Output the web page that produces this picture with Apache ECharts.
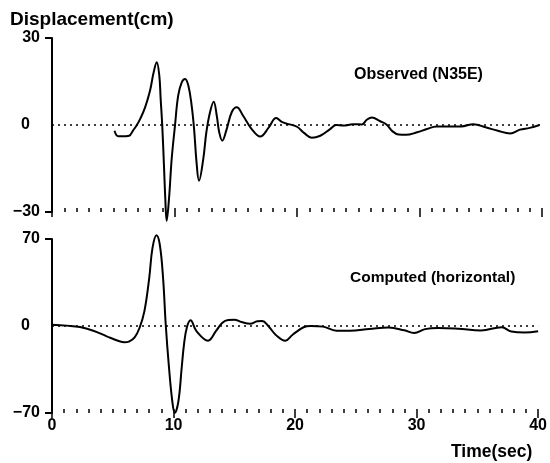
<!DOCTYPE html>
<html>
<head>
<meta charset="utf-8">
<script src="https://cdn.jsdelivr.net/npm/echarts@6/dist/echarts.min.js"></script>
<style>
  html, body { margin: 0; padding: 0; background: #fff; }
  #chart { width: 550px; height: 463px; }
</style>
</head>
<body>
<div id="chart"></div>
<script>
// observed record (N35E), [time sec, displacement cm]
var observed = [
  [5.1, -2.0], [5.4, -3.9], [5.7, -3.9], [6.3, -3.7], [6.6, -2.0], [6.9, -0.2],
  [7.2, 2.1], [7.6, 6.1], [8.0, 11.8], [8.3, 18.2], [8.55, 21.6], [8.76, 17],
  [8.87, 9], [9.0, -0.2], [9.14, -14], [9.25, -25.5], [9.36, -33], [9.55, -25.5],
  [9.77, -11.7], [10.04, -0.2], [10.3, 10.1], [10.59, 14.7], [10.86, 15.9], [11.13, 13.6],
  [11.4, 6.7], [11.6, -1.4], [11.8, -12.9], [12.0, -19.2], [12.35, -11.7], [12.6, -2.5],
  [12.9, 4.4], [13.2, 8.0], [13.45, 3.2], [13.65, -2.5], [13.9, -5.4], [14.26, -1.4],
  [14.67, 4.4], [15.08, 6.1], [15.6, 3.2], [16.3, -1.4], [17.0, -4.0], [17.7, -0.8],
  [18.3, 2.4], [18.8, 1.0], [19.4, 0.2], [20.0, -0.6], [20.6, -2.8], [21.2, -4.4],
  [21.9, -3.7], [22.7, -1.4], [23.2, 0], [23.8, -0.2], [24.2, 0], [24.6, 0.3],
  [25.3, 0.2], [25.7, 1.8], [26.1, 2.6], [26.8, 1.3], [27.3, 0.2], [27.8, -2.2],
  [28.3, -3.3], [28.9, -3.4], [29.8, -2.5], [30.6, -1.4], [31.4, -0.5], [32.5, -0.5],
  [33.4, -0.5], [34.4, 0.3], [35.4, -0.8], [36.4, -2.0], [37.4, -2.9], [38.2, -1.6],
  [39.0, -1.0], [39.8, 0]
]

// computed record (horizontal)
var computed = [
  [0, 1], [1.2, 0.3], [2.3, -0.8], [3.4, -3.8], [4.5, -8.3], [5.55, -12.3],
  [5.96, -13.1], [6.37, -12.3], [6.8, -9.1], [7.2, -1.6], [7.6, 11.8], [8.0, 38.6],
  [8.27, 62.8], [8.6, 73], [8.87, 65.4], [9.14, 38.6], [9.36, 1], [9.63, -33.8],
  [9.9, -60.6], [10.1, -70], [10.4, -60.6], [10.67, -33.8], [10.86, -15], [11.1, -1],
  [11.4, 4.6], [11.9, -4.3], [12.84, -11.8], [13.5, -4], [14.0, 2.5], [14.5, 4.8],
  [15.0, 5.0], [15.6, 3.2], [16.3, 1.8], [16.9, 3.8], [17.3, 4.0], [17.8, 0],
  [18.4, -7], [19.2, -11.8], [19.8, -7], [20.7, -1], [21.3, 0], [22.3, -0.5],
  [23.4, -3.8], [24.5, -3.8], [26.1, -2.5], [27.7, -1.2], [29.0, -3.5], [29.8, -5.6],
  [30.7, -2.5], [31.8, -1.6], [33.4, -2.2], [35.3, -3.6], [37.0, -1], [37.8, -4.5],
  [38.9, -5.3], [40, -4.3]
]

var timeTicks = [0, 10, 20, 30, 40]
var topRange = [-30, 30]
var bottomRange = [-70, 70]

var font = 'Liberation Sans, Arial, sans-serif'
var chart = echarts.init(document.getElementById('chart'), null, { renderer: 'canvas' })

function xAxisFor(gridIndex, showLabels) {
  return {
    type: 'value',
    gridIndex: gridIndex,
    min: timeTicks[0],
    max: timeTicks[timeTicks.length - 1],
    interval: 10,
    offset: -4,
    axisLine: { show: false, onZero: false },
    axisTick: { show: true, length: 9, lineStyle: { color: '#000', width: 1.5 } },
    minorTick: { show: true, splitNumber: 10, length: 4, lineStyle: { color: '#000', width: 1.5 } },
    splitLine: { show: false },
    axisLabel: {
      show: showLabels,
      margin: 9,
      color: '#000',
      fontFamily: font,
      fontWeight: 'bold',
      fontSize: 16
    }
  }
}

function yAxisFor(gridIndex, range) {
  return {
    type: 'value',
    gridIndex: gridIndex,
    min: range[0],
    max: range[1],
    interval: range[1],
    axisLine: { show: true, onZero: false, lineStyle: { color: '#000', width: 2 } },
    axisTick: { show: true, length: 7, customValues: range, lineStyle: { color: '#000', width: 2 } },
    splitLine: { show: false },
    axisLabel: {
      margin: 12,
      color: '#000',
      fontFamily: font,
      fontWeight: 'bold',
      fontSize: 16,
      formatter: function (v) {
        if (v === 0) return '{z|0}'
        return v < 0 ? '\u2212' + Math.abs(v) : String(v)
      },
      rich: {
        z: { fontFamily: font, fontWeight: 'bold', fontSize: 16, color: '#000', padding: [0, 10, 0, 0] }
      }
    }
  }
}

function trace(data, idx) {
  return {
    type: 'line',
    xAxisIndex: idx,
    yAxisIndex: idx,
    data: data,
    smooth: 0.4,
    showSymbol: false,
    clip: false,
    lineStyle: { color: '#000', width: 2 },
    markLine: {
      silent: true,
      symbol: 'none',
      label: { show: false },
      lineStyle: { color: '#000', type: [2, 4], width: 1.5 },
      data: [{ yAxis: 0 }]
    }
  }
}

var textStyle = { color: '#000', fontFamily: font, fontWeight: 'bold' }

chart.setOption({
  animation: false,
  title: [
    { text: 'Displacement(cm)', left: 5, top: 5, textStyle: Object.assign({ fontSize: 19 }, textStyle) },
    { text: 'Observed (N35E)', left: 349, top: 62, textStyle: Object.assign({ fontSize: 16 }, textStyle) },
    { text: 'Computed (horizontal)', left: 345, top: 265, textStyle: Object.assign({ fontSize: 15.5 }, textStyle) },
    { text: 'Time(sec)', left: 446, top: 438, textStyle: Object.assign({ fontSize: 17.5 }, textStyle) }
  ],
  grid: [
    { left: 52, right: 8, top: 38, height: 174 },
    { left: 52, right: 8, top: 239, height: 174 }
  ],
  xAxis: [xAxisFor(0, false), xAxisFor(1, true)],
  yAxis: [yAxisFor(0, topRange), yAxisFor(1, bottomRange)],
  series: [trace(observed, 0), trace(computed, 1)]
})
</script>
</body>
</html>
